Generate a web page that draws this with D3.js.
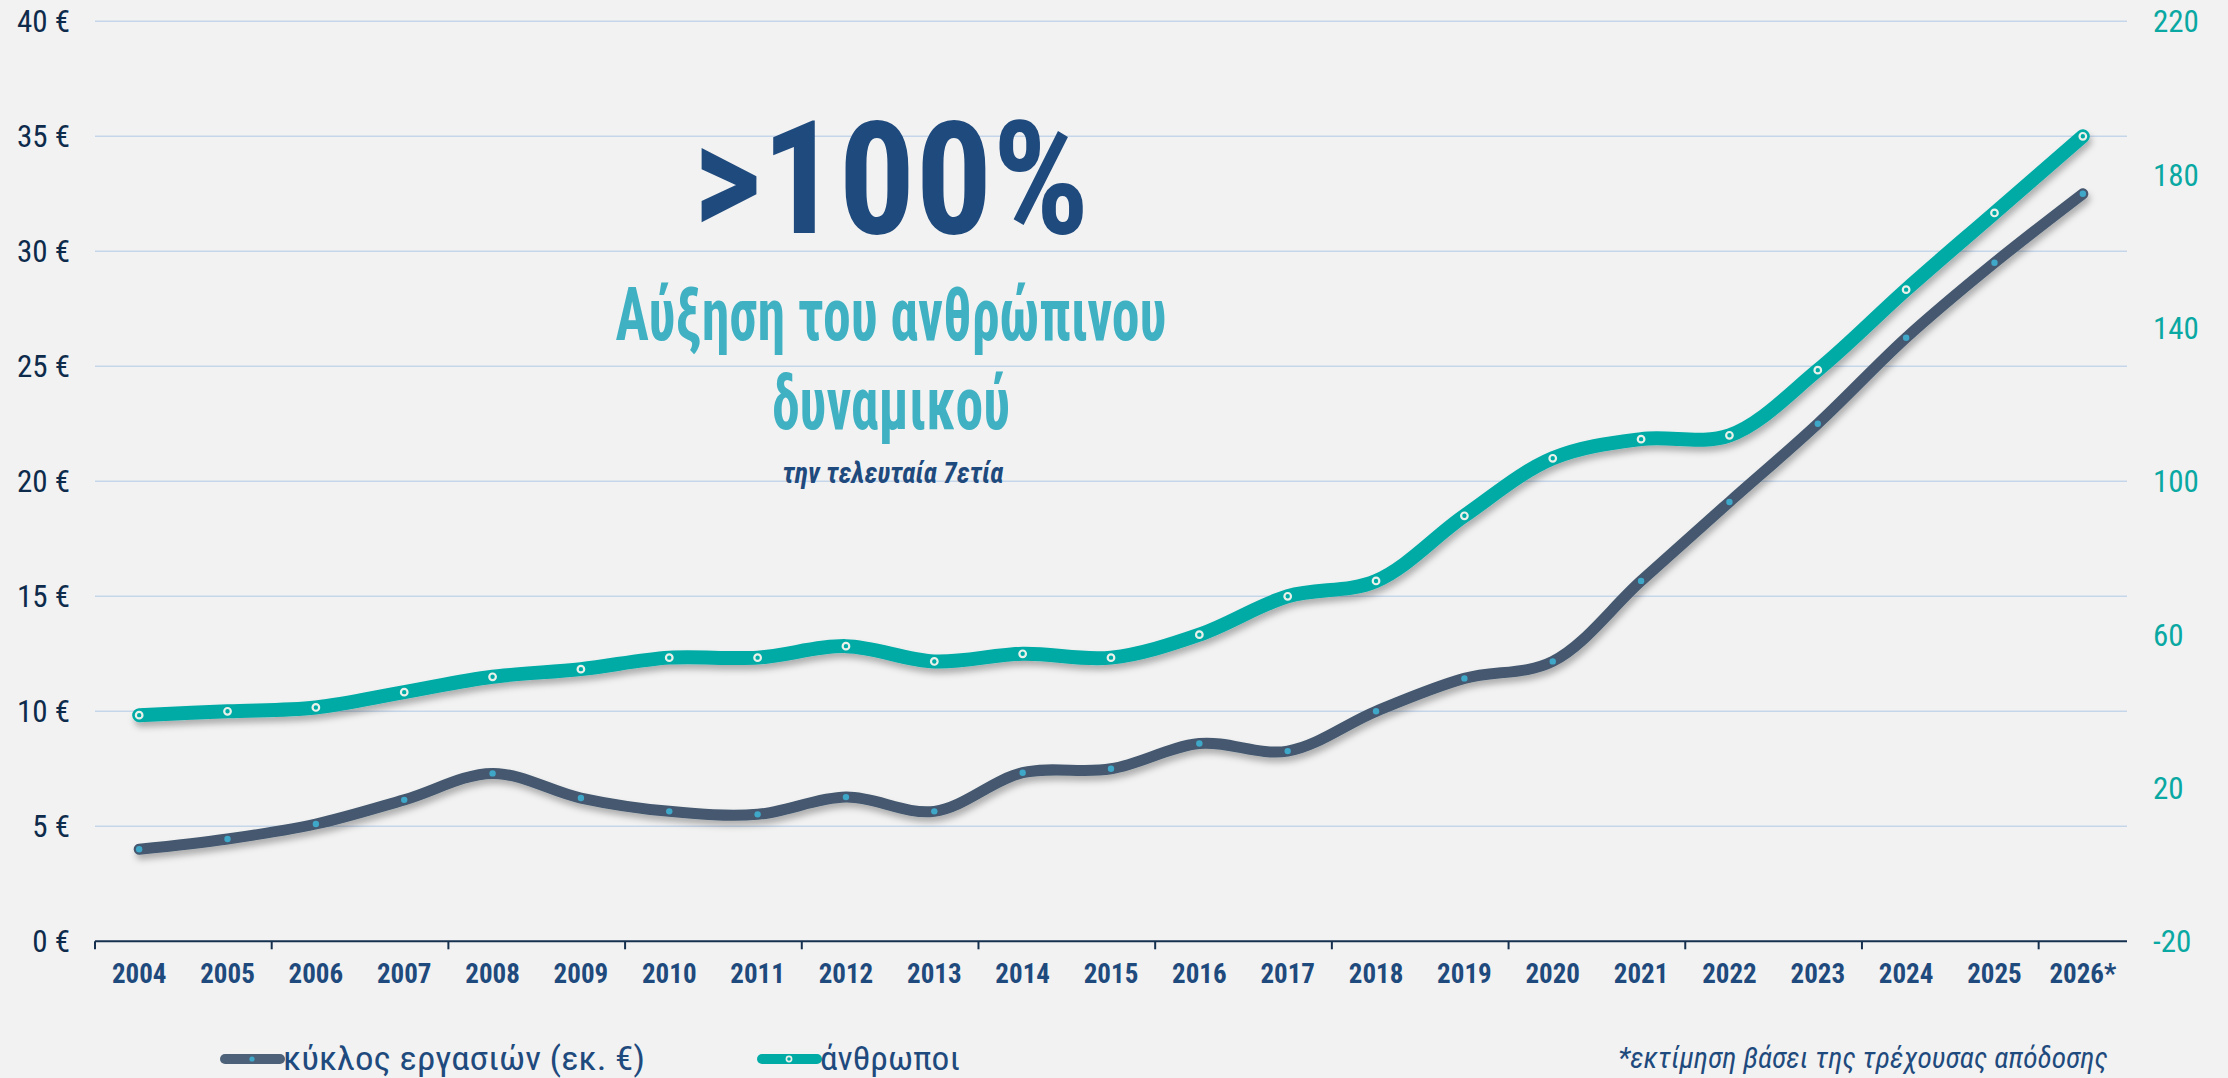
<!DOCTYPE html>
<html>
<head>
<meta charset="utf-8">
<script src="https://cdn.jsdelivr.net/npm/d3@7"></script>
<style>
  html, body { margin: 0; padding: 0; background: #f2f2f2; }
  svg { display: block; }
  .cond { font-family: "Liberation Sans Narrow", "Roboto Condensed", "DejaVu Sans Condensed", "Roboto", sans-serif; }
</style>
</head>
<body>
<svg id="chart" width="2228" height="1078"></svg>
<script>
const years = ["2004","2005","2006","2007","2008","2009","2010","2011","2012","2013","2014","2015",
  "2016","2017","2018","2019","2020","2021","2022","2023","2024","2025","2026*"];
// turnover, million euro (left axis)
const turnover = [4.0, 4.45, 5.1, 6.15, 7.3, 6.23, 5.65, 5.52, 6.27, 5.65, 7.33, 7.5,
  8.6, 8.27, 10.0, 11.43, 12.17, 15.67, 19.1, 22.5, 26.24, 29.5, 32.5];
// people (right axis)
const people = [39, 40, 41, 45, 49, 51, 54, 54, 57, 53, 55, 54,
  60, 70, 74, 91, 106, 111, 112, 129, 150, 170, 190];
const leftTicks = [0, 5, 10, 15, 20, 25, 30, 35, 40];
const rightTicks = [-20, 20, 60, 100, 140, 180, 220];
const seriesNames = ["κύκλος εργασιών (εκ. €)", "άνθρωποι"];

const svg = d3.select("#chart");
const plotLeft = 95, plotRight = 2127, plotTop = 21.3, plotBottom = 941.3;

const x = d3.scaleBand().domain(years).range([plotLeft, plotRight]);
const yL = d3.scaleLinear().domain([0, 40]).range([plotBottom, plotTop]);
const yR = d3.scaleLinear().domain([-20, 220]).range([plotBottom, plotTop]);
const cx = d => x(d) + x.bandwidth() / 2;

const defs = svg.append("defs");
const f = defs.append("filter").attr("id", "shadow")
  .attr("x", "-5%").attr("y", "-20%").attr("width", "110%").attr("height", "140%");
f.append("feDropShadow").attr("dx", 2).attr("dy", 5).attr("stdDeviation", 3)
  .attr("flood-color", "#000").attr("flood-opacity", 0.28);

// gridlines
svg.append("g").selectAll("line")
  .data(leftTicks.filter(d => d > 0))
  .join("line")
  .attr("x1", plotLeft).attr("x2", plotRight)
  .attr("y1", d => yL(d)).attr("y2", d => yL(d))
  .attr("stroke", "#c6d6ea").attr("stroke-width", 1.5);

// left axis labels
svg.append("g").attr("class", "cond").selectAll("text")
  .data(leftTicks)
  .join("text")
  .attr("x", 70).attr("y", d => yL(d)).attr("dy", "0.36em")
  .attr("text-anchor", "end")
  .attr("font-size", 31).attr("fill", "#0e2b4c")
  .text(d => d + " €");

// right axis labels
svg.append("g").attr("class", "cond").selectAll("text")
  .data(rightTicks)
  .join("text")
  .attr("x", 2153).attr("y", d => yR(d)).attr("dy", "0.36em")
  .attr("text-anchor", "start")
  .attr("font-size", 31).attr("fill", "#0aa8a2")
  .text(d => d);

// x axis
svg.append("line")
  .attr("x1", plotLeft).attr("x2", plotRight).attr("y1", plotBottom).attr("y2", plotBottom)
  .attr("stroke", "#16304f").attr("stroke-width", 2);
svg.append("g").selectAll("line")
  .data(years.filter((d, i) => i % 2 === 0))
  .join("line")
  .attr("x1", d => x(d)).attr("x2", d => x(d))
  .attr("y1", plotBottom).attr("y2", plotBottom + 8)
  .attr("stroke", "#16304f").attr("stroke-width", 2);
svg.append("g").attr("class", "cond").selectAll("text")
  .data(years)
  .join("text")
  .attr("x", cx).attr("y", 983)
  .attr("text-anchor", "middle")
  .attr("font-size", 27).attr("font-weight", "bold").attr("fill", "#1f4a7d")
  .text(d => d);

// lines
const curve = d3.curveCatmullRom.alpha(0.5);
const lineL = d3.line().x((d, i) => cx(years[i])).y(d => yL(d)).curve(curve);
const lineR = d3.line().x((d, i) => cx(years[i])).y(d => yR(d)).curve(curve);

svg.append("path").datum(people)
  .attr("d", lineR).attr("fill", "none")
  .attr("stroke", "#00aba6").attr("stroke-width", 14)
  .attr("stroke-linecap", "round").attr("stroke-linejoin", "round")
  .attr("filter", "url(#shadow)");
svg.append("path").datum(turnover)
  .attr("d", lineL).attr("fill", "none")
  .attr("stroke", "#44596f").attr("stroke-width", 11)
  .attr("stroke-linecap", "round").attr("stroke-linejoin", "round")
  .attr("filter", "url(#shadow)");

svg.append("g").selectAll("circle")
  .data(people)
  .join("circle")
  .attr("cx", (d, i) => cx(years[i])).attr("cy", d => yR(d))
  .attr("r", 3.3).attr("fill", "#00aba6")
  .attr("stroke", "#e9f1ea").attr("stroke-width", 2.2);
svg.append("g").selectAll("circle")
  .data(turnover)
  .join("circle")
  .attr("cx", (d, i) => cx(years[i])).attr("cy", d => yL(d))
  .attr("r", 3.2).attr("fill", "#3fa7c8");

// headline
const head = svg.append("g").attr("class", "cond").attr("text-anchor", "middle");
head.append("text").attr("x", 891).attr("y", 233)
  .attr("font-size", 158).attr("font-weight", "bold").attr("fill", "#1f4a7d")
  .attr("textLength", 397).attr("lengthAdjust", "spacingAndGlyphs")
  .text(">100%");
head.append("text").attr("x", 891).attr("y", 340)
  .attr("font-size", 74).attr("font-weight", "bold").attr("fill", "#40b1c2")
  .attr("textLength", 551).attr("lengthAdjust", "spacingAndGlyphs")
  .text("Αύξηση του ανθρώπινου");
head.append("text").attr("x", 891).attr("y", 429)
  .attr("font-size", 74).attr("font-weight", "bold").attr("fill", "#40b1c2")
  .attr("textLength", 238).attr("lengthAdjust", "spacingAndGlyphs")
  .text("δυναμικού");
head.append("text").attr("x", 893).attr("y", 483)
  .attr("font-size", 30).attr("font-weight", "bold").attr("font-style", "italic").attr("fill", "#1f4a7d")
  .attr("textLength", 221).attr("lengthAdjust", "spacingAndGlyphs")
  .text("την τελευταία 7ετία");

// legend
const legend = svg.append("g").attr("class", "cond");
const items = [
  { name: seriesNames[0], x: 220, color: "#4d6278", dot: "#3fa7c8", ring: null, w: 362 },
  { name: seriesNames[1], x: 757, color: "#00aba6", dot: "#00aba6", ring: "#e9f1ea", w: 140 }
];
items.forEach(it => {
  legend.append("line")
    .attr("x1", it.x + 5).attr("x2", it.x + 60).attr("y1", 1059).attr("y2", 1059)
    .attr("stroke", it.color).attr("stroke-width", 10).attr("stroke-linecap", "round");
  legend.append("circle")
    .attr("cx", it.x + 32).attr("cy", 1059).attr("r", 2.6)
    .attr("fill", it.dot).attr("stroke", it.ring).attr("stroke-width", it.ring ? 1.6 : 0);
  legend.append("text")
    .attr("x", it.x + 63).attr("y", 1070)
    .attr("font-size", 34).attr("fill", "#1f4a7d")
    .attr("textLength", it.w).attr("lengthAdjust", "spacingAndGlyphs")
    .text(it.name);
});

svg.append("text").attr("class", "cond")
  .attr("x", 2108).attr("y", 1068).attr("text-anchor", "end")
  .attr("font-size", 29).attr("font-style", "italic").attr("fill", "#1f4a7d")
  .attr("textLength", 490).attr("lengthAdjust", "spacingAndGlyphs")
  .text("*εκτίμηση βάσει της τρέχουσας απόδοσης");
</script>
</body>
</html>
